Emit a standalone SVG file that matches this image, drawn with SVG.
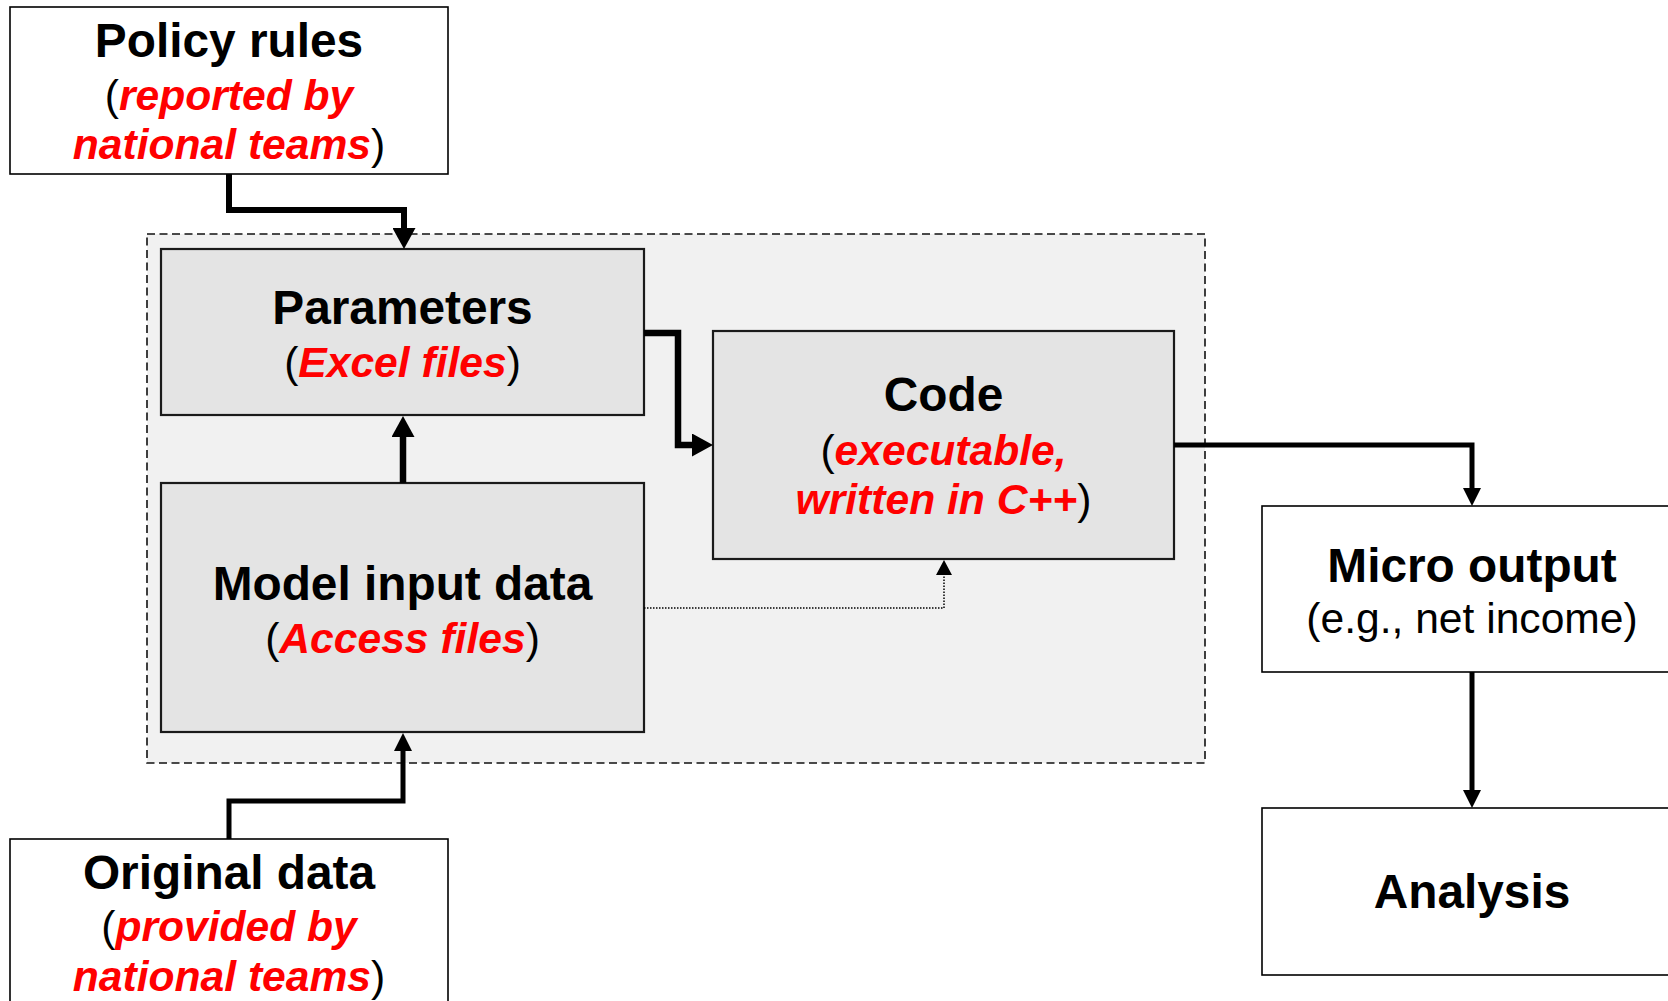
<svg xmlns="http://www.w3.org/2000/svg" width="1668" height="1001" viewBox="0 0 1668 1001">
<style>
text{font-family:"Liberation Sans",Arial,Helvetica,sans-serif;text-anchor:middle}
.h{font-size:47.8px;font-weight:bold;fill:#000}
.s{font-size:42.6px;fill:#000}
.r{font-weight:bold;font-style:italic;fill:#ff0000}
.wbox{fill:#ffffff;stroke:#000;stroke-width:1.6}
.gbox{fill:#e4e4e4;stroke:#1a1a1a;stroke-width:2.2}
.conn{fill:none;stroke:#000;stroke-linejoin:miter;stroke-linecap:butt}
</style>
<defs>
<marker id="aBig" markerUnits="userSpaceOnUse" markerWidth="21" markerHeight="23" refX="0" refY="11.5" orient="auto"><path d="M0,0 L21,11.5 L0,23 z" fill="#000"/></marker>
<marker id="aMed" markerUnits="userSpaceOnUse" markerWidth="18" markerHeight="18" refX="0" refY="9" orient="auto"><path d="M0,0 L18,9 L0,18 z" fill="#000"/></marker>
<marker id="aSm" markerUnits="userSpaceOnUse" markerWidth="15" markerHeight="16" refX="0" refY="8" orient="auto"><path d="M0,0 L15,8 L0,16 z" fill="#000"/></marker>
</defs>
<rect width="1668" height="1001" fill="#ffffff"/>
<g id="container">
<rect x="147" y="234" width="1058" height="529" fill="#f1f1f1" stroke="#111" stroke-width="1.6" stroke-dasharray="8,4.5"/>
</g>
<g id="policy">
<rect class="wbox" x="10" y="7" width="438" height="167"/>
<text x="229" y="57" class="h">Policy rules</text>
<text x="229" y="110" class="s">(<tspan class="r">reported by</tspan></text>
<text x="229" y="159" class="s"><tspan class="r">national teams</tspan>)</text>
</g>
<g id="parameters">
<rect class="gbox" x="161" y="249" width="483" height="166"/>
<text x="402.5" y="324" class="h">Parameters</text>
<text x="402.5" y="377" class="s">(<tspan class="r">Excel files</tspan>)</text>
</g>
<g id="model">
<rect class="gbox" x="161" y="483" width="483" height="249"/>
<text x="402.5" y="600" class="h">Model input data</text>
<text x="402.5" y="653" class="s">(<tspan class="r">Access files</tspan>)</text>
</g>
<g id="code">
<rect class="gbox" x="713" y="331" width="461" height="228"/>
<text x="943.5" y="411" class="h">Code</text>
<text x="943.5" y="465" class="s">(<tspan class="r">executable,</tspan></text>
<text x="943.5" y="514" class="s"><tspan class="r">written in C++</tspan>)</text>
</g>
<g id="original">
<rect class="wbox" x="10" y="839" width="438" height="180"/>
<text x="229" y="889" class="h">Original data</text>
<text x="229" y="941" class="s">(<tspan class="r">provided by</tspan></text>
<text x="229" y="991" class="s"><tspan class="r">national teams</tspan>)</text>
</g>
<g id="micro">
<rect class="wbox" x="1262" y="506" width="420" height="166"/>
<text x="1472" y="582" class="h">Micro output</text>
<text x="1472" y="633" class="s">(e.g., net income)</text>
</g>
<g id="analysis">
<rect class="wbox" x="1262" y="808" width="420" height="167"/>
<text x="1472" y="908" class="h">Analysis</text>
</g>
<g id="connectors">
<path class="conn" stroke-width="6" d="M229,174 V210 H404 V228" marker-end="url(#aBig)"/>
<path class="conn" stroke-width="6.5" d="M644,333 H678 V445 H692" marker-end="url(#aBig)"/>
<path class="conn" stroke-width="6.5" d="M403,483 V437" marker-end="url(#aBig)"/>
<path class="conn" stroke-width="5" d="M229,839 V801 H403 V751" marker-end="url(#aMed)"/>
<path class="conn" stroke-width="5" d="M1174,445 H1472 V488" marker-end="url(#aMed)"/>
<path class="conn" stroke-width="5" d="M1472,672 V790" marker-end="url(#aMed)"/>
<path class="conn" stroke-width="1.5" stroke-dasharray="1.5,1.5" d="M644,608 H944 V575" marker-end="url(#aSm)"/>
</g>
</svg>
